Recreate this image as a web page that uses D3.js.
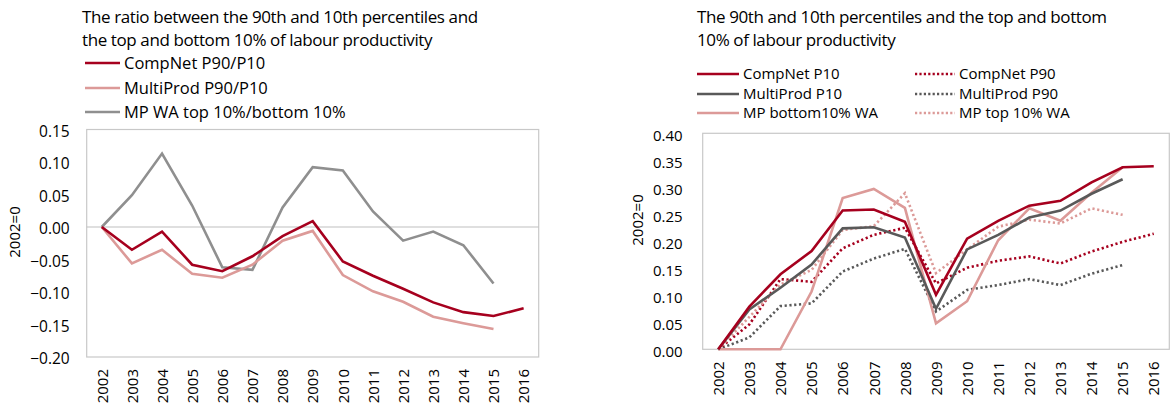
<!DOCTYPE html>
<html>
<head>
<meta charset="utf-8">
<script src="https://cdn.jsdelivr.net/npm/d3@7"></script>
<style>
    body { margin: 0; background: white; }
    svg text { font-family: "Open Sans", sans-serif; fill: #000; }
</style>
</head>
<body>
<div id="chart"></div>
<script>
// years on the x axis
const years = ["2002","2003","2004","2005","2006","2007","2008","2009","2010","2011","2012","2013","2014","2015","2016"];

// left chart - ratios
const compnetRatio = [0, -0.035, -0.007, -0.058, -0.068, -0.045, -0.014, 0.009, -0.053, -0.075, -0.095, -0.116, -0.131, -0.137, -0.125];
const multiprodRatio = [0, -0.056, -0.035, -0.072, -0.078, -0.058, -0.021, -0.006, -0.074, -0.099, -0.115, -0.138, -0.148, -0.157];
const mpWaRatio = [0, 0.049, 0.113, 0.033, -0.062, -0.066, 0.030, 0.092, 0.087, 0.024, -0.021, -0.007, -0.028, -0.087];
const leftTicks = [0.15, 0.10, 0.05, 0.00, -0.05, -0.10, -0.15, -0.20];

// right chart - percentiles
const compnetP10 = [0, 0.079, 0.139, 0.182, 0.257, 0.259, 0.236, 0.101, 0.205, 0.238, 0.266, 0.275, 0.309, 0.337, 0.339];
const multiprodP10 = [0, 0.074, 0.114, 0.157, 0.224, 0.226, 0.207, 0.075, 0.185, 0.212, 0.244, 0.257, 0.288, 0.315];
const mpBottomWa = [0, 0, 0, 0.107, 0.280, 0.297, 0.262, 0.048, 0.089, 0.202, 0.261, 0.238, 0.290, 0.337];
const compnetP90 = [0, 0.046, 0.130, 0.125, 0.187, 0.212, 0.225, 0.122, 0.151, 0.164, 0.172, 0.159, 0.181, 0.199, 0.214];
const multiprodP90 = [0, 0.022, 0.080, 0.085, 0.144, 0.168, 0.186, 0.070, 0.110, 0.119, 0.130, 0.119, 0.140, 0.156];
const mpTopWa = [0, 0.060, 0.120, 0.147, 0.221, 0.228, 0.289, 0.141, 0.185, 0.227, 0.240, 0.233, 0.261, 0.249];
const rightTicks = [0.40, 0.35, 0.30, 0.25, 0.20, 0.15, 0.10, 0.05, 0.00];

const red = "#a6001e";
const pink = "#dc9a98";
const grey = "#8f8f8f";
const darkGrey = "#595959";

let svg = d3.select("#chart")
    .append("svg")
    .attr("width", 1173)
    .attr("height", 407);

function drawChart(cfg) {
    let x = d3.scalePoint()
        .domain(years)
        .range([cfg.left, cfg.right])
        .padding(0.5);

    let y = d3.scaleLinear()
        .domain(cfg.domain)
        .range([cfg.bottom, cfg.top]);

    let g = svg.append("g");

    // title
    let title = g.append("text")
        .attr("x", cfg.titleX)
        .attr("y", 23)
        .style("font-size", "17px")
        .style("letter-spacing", "-0.4px");
    cfg.title.forEach(function (t, i) {
        title.append("tspan")
            .attr("x", cfg.titleX)
            .attr("dy", i == 0 ? 0 : 23)
            .text(t);
    });

    // legend
    cfg.legend.forEach(function (d) {
        g.append("line")
            .attr("x1", d.x).attr("x2", d.x + d.w)
            .attr("y1", d.y).attr("y2", d.y)
            .style("stroke", d.color)
            .style("stroke-width", 2.5)
            .style("stroke-dasharray", d.dash ? "2.2,2.2" : null);
        g.append("text")
            .attr("x", d.x + d.w + 4)
            .attr("y", d.y)
            .attr("dy", "0.35em")
            .style("font-size", cfg.legendSize)
            .text(d.name);
    });

    // frame
    g.append("rect")
        .attr("x", cfg.left).attr("y", cfg.top)
        .attr("width", cfg.right - cfg.left)
        .attr("height", cfg.bottom - cfg.top)
        .attr("fill", "none")
        .style("stroke", "#c8c8c8")
        .style("stroke-width", 1.2);

    if (cfg.domain[0] < 0) {
        g.append("line")
            .attr("x1", cfg.left).attr("x2", cfg.right)
            .attr("y1", y(0)).attr("y2", y(0))
            .style("stroke", "#c0c0c0")
            .style("stroke-width", 1.2);
    }

    // y axis
    let yAxis = g.append("g")
        .attr("transform", "translate(" + cfg.left + ",0)")
        .call(d3.axisLeft(y).tickValues(cfg.ticks).tickFormat(d3.format(".2f")).tickSize(0).tickPadding(cfg.tickPad));
    yAxis.select(".domain").remove();
    yAxis.selectAll("text")
        .attr("dy", "0.45em")
        .style("font-family", "Open Sans, sans-serif")
        .style("font-size", cfg.tickSize)
        .style("fill", "#000");

    g.append("text")
        .attr("transform", "translate(" + cfg.yTitleX + "," + cfg.yTitleY + ") rotate(-90)")
        .attr("text-anchor", "middle")
        .attr("dy", "0.35em")
        .style("font-size", "15px")
        .text("2002=0");

    // x axis
    let xAxis = g.append("g")
        .attr("transform", "translate(0," + cfg.bottom + ")")
        .call(d3.axisBottom(x).tickSize(0).tickPadding(0));
    xAxis.select(".domain").remove();
    xAxis.selectAll("text")
        .attr("transform", "rotate(-90)")
        .attr("text-anchor", "end")
        .attr("x", -cfg.xLabelPad)
        .attr("y", 0)
        .attr("dy", "0.35em")
        .style("font-family", "Open Sans, sans-serif")
        .style("font-size", "15px")
        .style("fill", "#000");

    let line = d3.line()
        .x(function (d, i) { return x(years[i]); })
        .y(function (d) { return y(d); });

    cfg.series.forEach(function (s) {
        g.append("path")
            .datum(s.values)
            .attr("d", line)
            .attr("fill", "none")
            .style("stroke", s.color)
            .style("stroke-width", 2.6)
            .style("stroke-linejoin", "miter")
            .style("stroke-dasharray", s.dash ? "2.2,2.6" : null);
    });
}

drawChart({
    left: 86.7, right: 538.7, top: 129.5, bottom: 357,
    domain: [-0.20, 0.15],
    ticks: leftTicks,
    tickPad: 17,
    tickSize: "15.5px",
    legendSize: "16.5px",
    yTitleX: 15, yTitleY: 232,
    xLabelPad: 12,
    titleX: 82,
    title: ["The ratio between the 90th and 10th percentiles and", "the top and bottom 10% of labour productivity"],
    legend: [
        {name: "CompNet P90/P10", color: red, x: 85, y: 63, w: 35},
        {name: "MultiProd P90/P10", color: pink, x: 85, y: 88, w: 35},
        {name: "MP WA top 10%/bottom 10%", color: grey, x: 85, y: 112, w: 35}
    ],
    series: [
        {values: mpWaRatio, color: grey},
        {values: multiprodRatio, color: pink},
        {values: compnetRatio, color: red}
    ]
});

drawChart({
    left: 702.7, right: 1169.3, top: 133.3, bottom: 349.3,
    domain: [0, 0.40],
    ticks: rightTicks,
    tickPad: 20,
    tickSize: "15px",
    legendSize: "15px",
    yTitleX: 638, yTitleY: 220,
    xLabelPad: 12,
    titleX: 697,
    title: ["The 90th and 10th percentiles and the top and bottom", "10% of labour productivity"],
    legend: [
        {name: "CompNet P10", color: red, x: 697, y: 74, w: 42},
        {name: "MultiProd P10", color: darkGrey, x: 697, y: 94, w: 42},
        {name: "MP bottom10% WA", color: pink, x: 697, y: 113, w: 42},
        {name: "CompNet P90", color: red, x: 915, y: 74, w: 40, dash: true},
        {name: "MultiProd P90", color: darkGrey, x: 915, y: 94, w: 40, dash: true},
        {name: "MP top 10% WA", color: pink, x: 915, y: 113, w: 40, dash: true}
    ],
    series: [
        {values: multiprodP90, color: darkGrey, dash: true},
        {values: compnetP90, color: red, dash: true},
        {values: mpTopWa, color: pink, dash: true},
        {values: mpBottomWa, color: pink},
        {values: multiprodP10, color: darkGrey},
        {values: compnetP10, color: red}
    ]
});
</script>
</body>
</html>
